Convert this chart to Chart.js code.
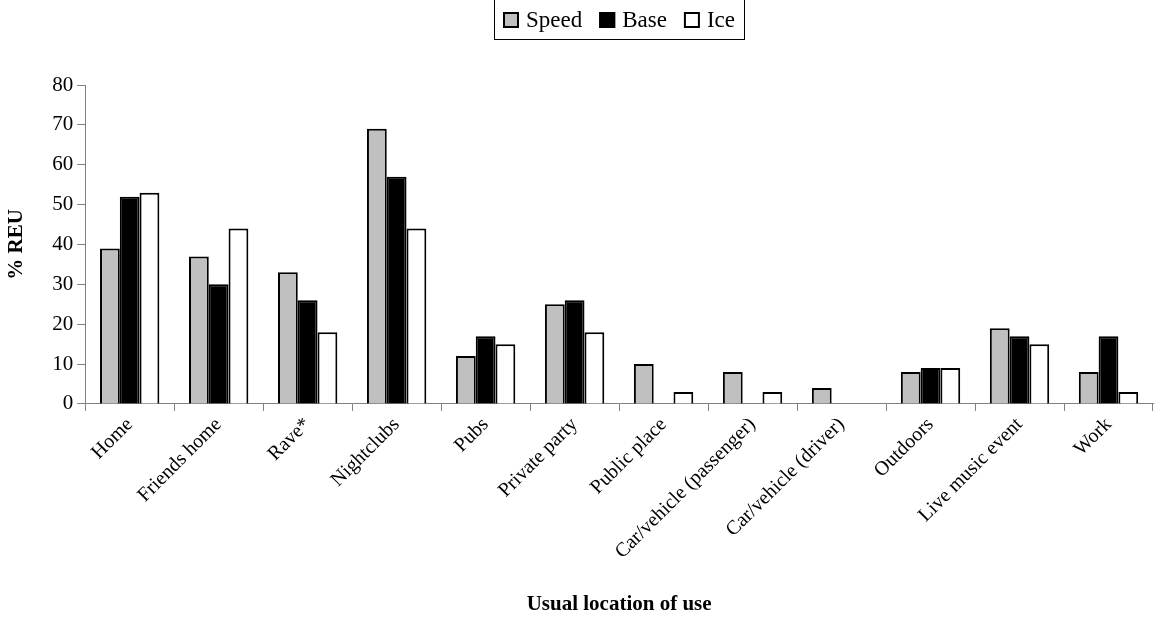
<!DOCTYPE html>
<html>
<head>
<meta charset="utf-8">
<script src="https://cdn.jsdelivr.net/npm/chart.js@4/dist/chart.umd.min.js"></script>
<style>
  html, body { margin: 0; padding: 0; background: #fff; }
  #wrap { width: 1155px; height: 619px; position: relative; }
</style>
</head>
<body>
<div id="wrap"><canvas id="c"></canvas></div>
<script>
const categories = ["Home", "Friends home", "Rave*", "Nightclubs", "Pubs", "Private party", "Public place",
  "Car/vehicle (passenger)", "Car/vehicle (driver)", "Outdoors", "Live music event", "Work"];
const speedValues = [39, 37, 33, 69, 12, 25, 10, 8, 4, 8, 19, 8];
const baseValues  = [52, 30, 26, 57, 17, 26, 0, 0, 0, 9, 17, 17];
const iceValues   = [53, 44, 18, 44, 15, 18, 3, 3, 0, 9, 15, 3];
const seriesNames = ["Speed", "Base", "Ice"];
const seriesColors = ["#c0c0c0", "#000000", "#ffffff"];
const yTicks = [0, 10, 20, 30, 40, 50, 60, 70, 80];

const FONT = "'Liberation Serif', 'Times New Roman', serif";

const legendBox = {
  id: 'legendBox',
  afterDraw(chart) {
    const ctx = chart.ctx;
    const ca = chart.chartArea;
    const cx = (ca.left + ca.right) / 2;
    ctx.save();
    ctx.font = "23px " + FONT;
    const box = 16, gapBT = 7, gapItem = 17, padX = 9;
    const widths = seriesNames.map(n => ctx.measureText(n).width);
    let total = padX * 2;
    widths.forEach((w, i) => { total += box + gapBT + w + (i < widths.length - 1 ? gapItem : 0); });
    const left = Math.round(cx - total / 2);
    const top = -1, height = 40;
    ctx.lineWidth = 1;
    ctx.strokeStyle = "#000";
    ctx.strokeRect(left + 0.5, top + 0.5, total, height);
    let x = left + padX;
    const midY = 20;
    seriesNames.forEach((n, i) => {
      ctx.fillStyle = seriesColors[i];
      ctx.fillRect(x, midY - box / 2, box, box);
      ctx.lineWidth = 2;
      ctx.strokeStyle = "#000";
      ctx.strokeRect(x + 1, midY - box / 2 + 1, box - 2, box - 2);
      x += box + gapBT;
      ctx.fillStyle = "#000";
      ctx.textBaseline = "middle";
      ctx.textAlign = "left";
      ctx.fillText(n, x, midY + 1);
      x += widths[i] + gapItem;
    });
    ctx.restore();
  }
};

const allValues = [speedValues, baseValues, iceValues];

new Chart(document.getElementById('c'), {
  type: 'bar',
  data: {
    labels: categories,
    datasets: seriesNames.map((n, i) => ({
      label: n,
      data: allValues[i],
      backgroundColor: seriesColors[i],
      borderColor: "#000",
      borderWidth: 2,
      categoryPercentage: 0.667,
      barPercentage: 1.0
    }))
  },
  options: {
    responsive: true,
    maintainAspectRatio: false,
    animation: false,
    layout: { padding: { top: 85, left: 4, right: 2, bottom: 2 } },
    plugins: {
      legend: { display: false },
      tooltip: { enabled: false }
    },
    scales: {
      x: {
        grid: { offset: true, drawOnChartArea: false, drawTicks: true, tickLength: 7, color: "#808080", lineWidth: 1 },
        border: { color: "#808080", width: 1 },
        ticks: {
          color: "#000",
          font: { family: FONT, size: 20 },
          maxRotation: 45, minRotation: 45, autoSkip: false, padding: 2
        },
        title: {
          display: true, text: "Usual location of use", color: "#000",
          font: { family: FONT, size: 21, weight: 'bold' },
          padding: { top: 26, bottom: 0 }
        }
      },
      y: {
        min: 0, max: 80,
        afterBuildTicks(scale) { scale.ticks = yTicks.map(v => ({ value: v })); },
        grid: { drawOnChartArea: false, drawTicks: true, tickLength: 8, color: "#808080", lineWidth: 1 },
        border: { color: "#808080", width: 1 },
        ticks: {
          color: "#000",
          font: { family: FONT, size: 21 },
          padding: 4
        },
        title: {
          display: true, text: "% REU", color: "#000",
          font: { family: FONT, size: 21, weight: 'bold' },
          padding: { top: 0, bottom: 19 }
        }
      }
    }
  },
  plugins: [legendBox]
});
</script>
</body>
</html>
